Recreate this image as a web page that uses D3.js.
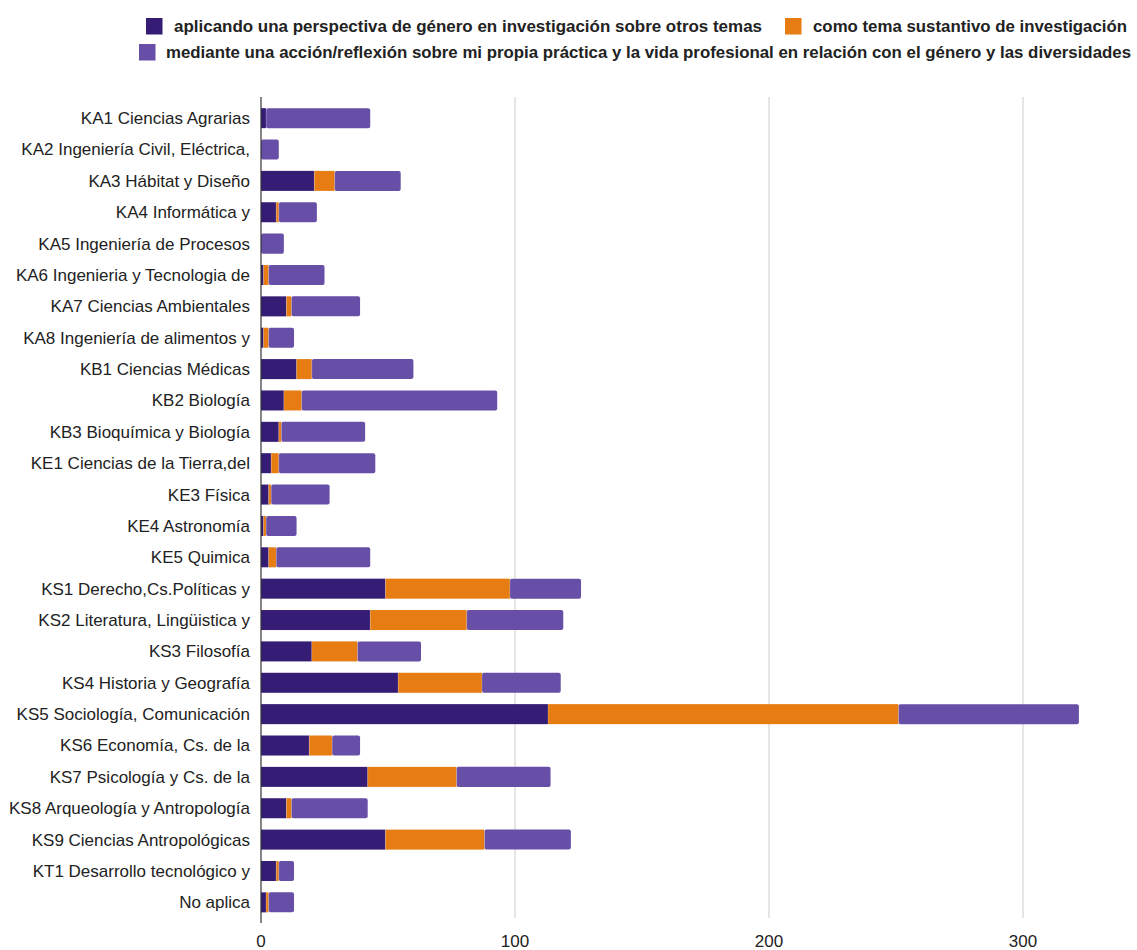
<!DOCTYPE html>
<html>
<head>
<meta charset="utf-8">
<script src="https://cdn.jsdelivr.net/npm/d3@7"></script>
<style>
  body { margin: 0; background: #fff; }
  svg { font-family: "Liberation Sans", Arial, sans-serif; }
</style>
</head>
<body>
<svg width="1137" height="950"></svg>
<script>
const svg = d3.select("svg");

// categories, top to bottom
const categories = [
    "KA1 Ciencias Agrarias", "KA2 Ingeniería Civil, Eléctrica,", "KA3 Hábitat y Diseño",
    "KA4 Informática y", "KA5 Ingeniería de Procesos", "KA6 Ingenieria y Tecnologia de",
    "KA7 Ciencias Ambientales", "KA8 Ingeniería de alimentos y", "KB1 Ciencias Médicas",
    "KB2 Biología", "KB3 Bioquímica y Biología", "KE1 Ciencias de la Tierra,del",
    "KE3 Física", "KE4 Astronomía", "KE5 Quimica", "KS1 Derecho,Cs.Políticas y",
    "KS2 Literatura, Lingüistica y", "KS3 Filosofía", "KS4 Historia y Geografía",
    "KS5 Sociología, Comunicación", "KS6 Economía, Cs. de la", "KS7 Psicología y Cs. de la",
    "KS8 Arqueología y Antropología", "KS9 Ciencias Antropológicas",
    "KT1 Desarrollo tecnológico y", "No aplica"
];

// series values
const perspectiva = [2, 0, 21, 6, 0, 1, 10, 1, 14, 9, 7, 4, 3, 1, 3, 49, 43, 20, 54, 113, 19, 42, 10, 49, 6, 2];
const temaSustantivo = [0, 0, 8, 1, 0, 2, 2, 2, 6, 7, 1, 3, 1, 1, 3, 49, 38, 18, 33, 138, 9, 35, 2, 39, 1, 1];
const accionReflexion = [41, 7, 26, 15, 9, 22, 27, 10, 40, 77, 33, 38, 23, 12, 37, 28, 38, 25, 31, 71, 11, 37, 30, 34, 6, 10];

const seriesNames = [
    "aplicando una perspectiva de género en investigación sobre otros temas",
    "como tema sustantivo de investigación",
    "mediante una acción/reflexión sobre mi propia práctica y la vida profesional en relación con el género y las diversidades"
];
const colors = ["#351c75", "#e67c12", "#674ea7"];

const xTicks = [0, 100, 200, 300];

// build rows for the stack
const rows = categories.map((c, i) => ({
    cat: c, s0: perspectiva[i], s1: temaSustantivo[i], s2: accionReflexion[i]
}));
const stack = d3.stack().keys(["s0", "s1", "s2"])(rows);

const plotTop = 97, plotBottom = 918;

const x = d3.scaleLinear().domain([0, 340]).range([261, 261 + 340 * 2.54]);
const y = d3.scaleBand().domain(categories).range([102.5, plotBottom]).paddingInner(0.362).paddingOuter(0.18);

// gridlines
svg.append("g")
    .selectAll("line")
    .data(xTicks.filter(t => t > 0))
    .join("line")
    .attr("x1", d => x(d)).attr("x2", d => x(d))
    .attr("y1", plotTop).attr("y2", plotBottom)
    .attr("stroke", "#cccccc").attr("stroke-width", 1);

// bars
stack.forEach((layer, k) => {
    svg.append("g")
        .attr("fill", colors[k])
        .selectAll("rect")
        .data(layer)
        .join("rect")
        .attr("x", d => x(d[0]))
        .attr("y", d => y(d.data.cat))
        .attr("width", d => Math.max(0, x(d[1]) - x(d[0])))
        .attr("height", y.bandwidth())
        .attr("rx", d => (k === 2 ? 2 : 0));
});

// thin separators between segments
stack.slice(0, 2).forEach(layer => {
    svg.append("g")
        .selectAll("line")
        .data(layer.filter(d => d[1] > d[0]))
        .join("line")
        .attr("x1", d => x(d[1])).attr("x2", d => x(d[1]))
        .attr("y1", d => y(d.data.cat)).attr("y2", d => y(d.data.cat) + y.bandwidth())
        .attr("stroke", "#ffffff").attr("stroke-opacity", 0.35).attr("stroke-width", 0.6);
});

// baseline
svg.append("line")
    .attr("x1", x(0)).attr("x2", x(0))
    .attr("y1", plotTop).attr("y2", 923)
    .attr("stroke", "#333333").attr("stroke-width", 1.2);

// category labels
svg.append("g")
    .selectAll("text")
    .data(categories)
    .join("text")
    .attr("x", 250)
    .attr("y", d => y(d) + y.bandwidth() / 2)
    .attr("dy", "0.35em")
    .attr("text-anchor", "end")
    .attr("font-size", 17)
    .attr("fill", "#222222")
    .text(d => d);

// x tick labels
svg.append("g")
    .selectAll("text")
    .data(xTicks)
    .join("text")
    .attr("x", d => x(d))
    .attr("y", 947)
    .attr("text-anchor", "middle")
    .attr("font-size", 17)
    .attr("fill", "#222222")
    .text(d => d);

// legend
const legendItems = [
    { i: 0, sx: 146, sy: 18, tx: 174, ty: 31.5, w: 588, fs: 17 },
    { i: 1, sx: 785, sy: 18, tx: 813, ty: 31.5, w: 314, fs: 17 },
    { i: 2, sx: 139, sy: 44, tx: 166, ty: 58, w: 965, fs: 16.6 }
];
const legend = svg.append("g");
legendItems.forEach(it => {
    legend.append("rect")
        .attr("x", it.sx).attr("y", it.sy)
        .attr("width", 16.5).attr("height", 16.5)
        .attr("fill", colors[it.i]);
    legend.append("text")
        .attr("x", it.tx).attr("y", it.ty)
        .attr("font-size", it.fs)
        .attr("font-weight", "bold")
        .attr("fill", "#222222")
        .attr("textLength", it.w)
        .attr("lengthAdjust", "spacingAndGlyphs")
        .text(seriesNames[it.i]);
});
</script>
</body>
</html>
